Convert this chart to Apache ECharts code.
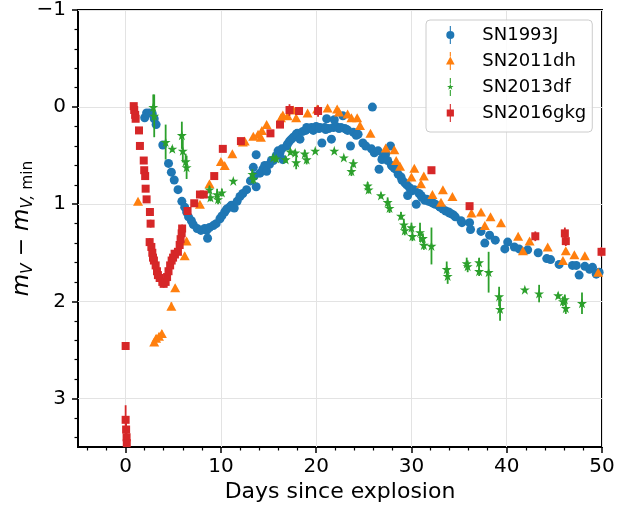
<!DOCTYPE html>
<html>
<head>
<meta charset="utf-8">
<script src="https://cdn.jsdelivr.net/npm/echarts@6/dist/echarts.min.js"></script>
<style>
  html, body { margin: 0; padding: 0; background: #fff; }
  #chart { width: 618px; height: 507px; }
</style>
</head>
<body>
<div id="chart"></div>
<script>
// Light curves: [days since explosion, m_V - m_V,min, error]
const sn1993j = [
  [2.0,0.11,0.01],[2.2,0.06,0.01],[2.5,0.06,0.01],[2.8,0.07,0.01],[3.0,0.12,0.01],[3.2,0.18,0.01],
  [3.9,0.39,0.01],[4.5,0.58,0.01],[4.8,0.67,0.01],[5.1,0.75,0.01],[5.5,0.85,0.01],[5.9,0.97,0.01],
  [6.2,1.03,0.01],[6.4,1.08,0.01],[6.6,1.13,0.01],[6.9,1.17,0.01],[7.1,1.21,0.01],[7.5,1.25,0.01],
  [7.9,1.27,0.01],[8.3,1.25,0.01],[8.5,1.27,0.01],[8.6,1.35,0.01],[8.8,1.24,0.01],[9.2,1.22,0.01],
  [9.5,1.20,0.01],[9.9,1.15,0.01],[10.1,1.12,0.01],[10.4,1.08,0.01],[10.6,1.05,0.01],[10.9,1.03,0.01],
  [11.1,1.01,0.01],[11.4,1.04,0.01],[11.7,0.97,0.01],[12.0,0.92,0.01],[12.3,0.89,0.01],[12.7,0.85,0.01],
  [13.1,0.76,0.01],[13.4,0.62,0.01],[13.5,0.71,0.01],[13.7,0.49,0.01],[13.7,0.82,0.01],[14.1,0.68,0.01],
  [14.4,0.64,0.01],[14.6,0.60,0.01],[14.8,0.66,0.01],[15.1,0.59,0.01],[15.3,0.55,0.01],[15.5,0.55,0.01],
  [15.8,0.50,0.01],[16.0,0.45,0.01],[16.2,0.47,0.01],[16.4,0.43,0.01],[16.5,0.54,0.01],[16.9,0.40,0.01],
  [17.0,0.38,0.01],[17.2,0.35,0.01],[17.4,0.33,0.01],[17.6,0.31,0.01],[17.9,0.28,0.01],[18.0,0.27,0.01],
  [18.3,0.33,0.01],[18.6,0.25,0.01],[18.9,0.24,0.01],[19.0,0.21,0.01],[19.3,0.22,0.01],[19.5,0.21,0.01],
  [19.7,0.24,0.01],[20.0,0.20,0.01],[20.3,0.22,0.01],[20.4,0.21,0.01],[20.6,0.37,0.01],[20.9,0.21,0.01],
  [21.0,0.23,0.01],[21.1,0.12,0.01],[21.3,0.22,0.01],[21.6,0.33,0.01],[21.8,0.21,0.01],[21.9,0.13,0.01],
  [22.1,0.20,0.01],[22.4,0.22,0.01],[22.6,0.21,0.01],[22.8,0.09,0.01],[23.0,0.22,0.01],[23.2,0.23,0.01],
  [23.3,0.24,0.01],[23.6,0.40,0.01],[23.9,0.26,0.01],[24.2,0.29,0.01],[24.4,0.28,0.01],[24.9,0.37,0.01],
  [25.2,0.40,0.01],[25.8,0.43,0.01],[25.9,0.00,0.01],[26.1,0.47,0.01],[26.5,0.45,0.01],[26.6,0.64,0.01],
  [26.9,0.54,0.01],[27.0,0.52,0.01],[27.3,0.48,0.01],[27.5,0.55,0.01],[27.8,0.40,0.01],[27.9,0.60,0.01],
  [28.0,0.61,0.01],[28.2,0.63,0.01],[28.4,0.64,0.01],[28.6,0.69,0.01],[28.9,0.72,0.01],[29.0,0.75,0.01],
  [29.3,0.78,0.01],[29.5,0.80,0.01],[29.6,0.91,0.01],[29.8,0.83,0.01],[30.1,0.86,0.01],[30.3,0.85,0.01],
  [30.5,1.00,0.01],[30.8,0.89,0.01],[31.0,0.91,0.01],[31.1,0.93,0.01],[31.4,0.96,0.01],[31.6,0.95,0.01],
  [31.8,0.97,0.01],[32.1,0.98,0.01],[32.3,0.99,0.01],[32.5,1.00,0.01],[32.9,1.02,0.01],[33.0,1.03,0.01],
  [33.3,1.05,0.01],[33.6,1.07,0.01],[33.9,1.08,0.01],[34.0,1.09,0.01],[34.2,1.10,0.01],[34.4,1.11,0.01],
  [34.6,1.13,0.01],[35.2,1.17,0.01],[35.3,1.19,0.01],[36.1,1.19,0.01],[36.2,1.26,0.01],[37.3,1.28,0.01],
  [37.7,1.40,0.01],[38.2,1.32,0.01],[38.8,1.37,0.01],[39.8,1.46,0.01],[40.1,1.39,0.01],[40.8,1.44,0.01],
  [41.3,1.46,0.01],[42.2,1.47,0.01],[43.3,1.50,0.01],[44.2,1.56,0.01],[44.6,1.57,0.01],[45.5,1.62,0.01],
  [46.9,1.63,0.01],[47.3,1.63,0.01],[47.6,1.73,0.01],[48.2,1.64,0.01],[48.7,1.67,0.01],[49.0,1.65,0.01],
  [49.4,1.72,0.01],[49.7,1.70,0.01]
];

const sn2011dh = [
  [1.3,0.97,0.02],[3.0,2.42,0.03],[3.2,2.38,0.03],[3.5,2.36,0.03],[3.8,2.33,0.03],[4.8,2.05,0.04],
  [5.2,1.86,0.03],[6.2,1.53,0.03],[6.4,1.38,0.03],[7.8,1.00,0.02],[8.8,0.79,0.02],[10.0,0.56,0.02],
  [10.4,0.60,0.02],[11.2,0.48,0.02],[12.3,0.36,0.02],[12.5,0.35,0.02],[13.4,0.30,0.02],[13.9,0.28,0.02],
  [14.2,0.31,0.02],[14.3,0.24,0.02],[14.8,0.18,0.02],[16.3,0.11,0.02],[16.5,0.08,0.02],[17.0,0.09,0.02],
  [17.6,0.03,0.02],[17.9,0.11,0.02],[19.1,0.06,0.02],[20.1,0.02,0.02],[21.2,0.01,0.02],[22.2,0.02,0.02],
  [22.4,0.05,0.02],[23.3,0.07,0.02],[23.7,0.11,0.02],[24.3,0.11,0.02],[24.6,0.19,0.02],[25.7,0.27,0.02],
  [27.3,0.42,0.02],[28.2,0.44,0.02],[28.4,0.55,0.02],[28.8,0.61,0.02],[30.0,0.72,0.02],[30.3,0.63,0.02],
  [31.0,0.79,0.02],[31.3,0.71,0.02],[32.2,0.90,0.02],[33.1,0.98,0.02],[33.3,0.85,0.02],[34.3,0.92,0.02],
  [36.3,1.09,0.02],[37.3,1.08,0.02],[37.7,1.22,0.02],[38.3,1.13,0.02],[39.4,1.19,0.02],[41.2,1.33,0.02],
  [41.7,1.48,0.02],[42.4,1.38,0.02],[44.3,1.44,0.02],[45.9,1.58,0.02],[46.2,1.48,0.02],[47.1,1.52,0.02],
  [48.2,1.53,0.02],[49.6,1.70,0.02]
];

const sn2013df = [
  [2.9,0.00,0.13],[3.0,0.09,0.22],[4.2,0.36,0.18],[4.9,0.43,0.03],[5.9,0.29,0.14],[6.0,0.45,0.12],
  [6.3,0.56,0.08],[6.4,0.62,0.12],[8.8,0.85,0.04],[8.9,0.93,0.04],[9.6,0.90,0.06],[9.7,0.95,0.05],
  [10.1,0.88,0.04],[11.3,0.76,0.02],[13.3,0.69,0.05],[13.4,0.74,0.05],[15.5,0.52,0.03],[15.8,0.53,0.03],
  [16.8,0.54,0.03],[17.3,0.46,0.03],[17.8,0.47,0.03],[17.9,0.57,0.07],[18.8,0.48,0.04],[19.0,0.54,0.05],
  [19.9,0.45,0.02],[21.9,0.45,0.02],[22.9,0.52,0.02],[23.7,0.66,0.05],[23.9,0.58,0.04],[25.4,0.81,0.04],
  [25.5,0.85,0.04],[26.8,0.91,0.03],[27.5,0.98,0.05],[27.7,1.04,0.05],[28.9,1.12,0.04],[29.2,1.21,0.06],
  [29.3,1.27,0.05],[30.0,1.24,0.05],[30.1,1.33,0.05],[30.9,1.29,0.10],[31.2,1.35,0.05],[31.3,1.42,0.05],
  [32.1,1.43,0.19],[33.7,1.67,0.08],[33.8,1.74,0.08],[35.8,1.61,0.06],[35.9,1.64,0.06],[37.1,1.60,0.05],
  [37.1,1.69,0.05],[38.1,1.70,0.21],[39.2,1.95,0.10],[39.3,2.08,0.12],[41.9,1.88,0.02],[43.4,1.92,0.09],
  [45.4,1.94,0.03],[45.9,2.00,0.05],[46.1,1.98,0.05],[46.2,2.07,0.06],[47.9,2.02,0.11]
];

const sn2016gkg = [
  [0.0,2.46,0.02],[0.0,3.22,0.15],[0.05,3.32,0.10],[0.1,3.40,0.08],[0.12,3.46,0.06],
  [0.85,-0.01,0.03],[0.9,0.03,0.03],[1.0,0.08,0.03],[1.05,0.12,0.03],[1.4,0.24,0.03],[1.5,0.40,0.03],
  [1.9,0.55,0.03],[1.95,0.65,0.03],[2.05,0.71,0.03],[2.1,0.84,0.03],[2.2,0.95,0.03],[2.55,1.08,0.04],
  [2.62,1.20,0.04],[2.52,1.39,0.04],[2.70,1.44,0.04],[2.80,1.50,0.04],[2.87,1.55,0.04],[2.97,1.58,0.04],
  [3.15,1.63,0.04],[3.29,1.69,0.04],[3.39,1.73,0.04],[3.57,1.76,0.04],[3.85,1.80,0.04],[3.99,1.82,0.04],
  [4.20,1.80,0.04],[4.35,1.75,0.04],[4.50,1.69,0.04],[4.67,1.63,0.04],[4.83,1.58,0.04],[4.98,1.55,0.04],
  [5.14,1.51,0.04],[5.49,1.49,0.07],[5.67,1.42,0.04],[5.77,1.36,0.04],[5.88,1.30,0.04],[5.93,1.25,0.04],
  [6.5,1.07,0.03],[7.2,0.99,0.03],[7.8,0.90,0.03],[8.2,0.90,0.03],[9.3,0.71,0.03],[10.2,0.43,0.03],
  [12.1,0.35,0.03],[15.2,0.27,0.03],[16.2,0.18,0.03],[17.2,0.03,0.06],[18.2,0.04,0.03],[20.2,0.04,0.06],
  [32.1,0.65,0.02],[36.1,1.02,0.02],[43.0,1.33,0.05],[46.1,1.30,0.06],[46.2,1.38,0.05],[49.95,1.49,0.05]
];

const xTickValues = [0, 10, 20, 30, 40, 50];
const yTickValues = [-1, 0, 1, 2, 3];

const FONT = 'DejaVu Sans';
const COLORS = { sn1993j: '#1f77b4', sn2011dh: '#ff7f0e', sn2013df: '#2ca02c', sn2016gkg: '#d62728' };

const STAR = 'path://M0,-1 L0.2245,-0.309 L0.951,-0.309 L0.363,0.118 L0.588,0.809 L0,0.382 L-0.588,0.809 L-0.363,0.118 L-0.951,-0.309 L-0.2245,-0.309 Z';

// Legend handles: marker with a vertical error bar through it
const LEG_CIRCLE = 'path://M4.4,0 L5.6,0 L5.6,5.5 L4.4,5.5 Z M4.4,14.5 L5.6,14.5 L5.6,20 L4.4,20 Z M0.5,10 A4.5,4.5 0 1,1 9.5,10 A4.5,4.5 0 1,1 0.5,10 Z';
const LEG_TRI = 'path://M4.4,0 L5.6,0 L5.6,5 L4.4,5 Z M4.4,14 L5.6,14 L5.6,20 L4.4,20 Z M5,5 L9.8,14 L0.2,14 Z';
const LEG_STAR = 'path://M4.4,0 L5.6,0 L5.6,6.2 L4.4,6.2 Z M4.4,13.2 L5.6,13.2 L5.6,20 L4.4,20 Z ' +
  'M5,6.2 L5.85,8.83 L8.61,8.83 L6.38,10.45 L7.23,13.07 L5,11.45 L2.77,13.07 L3.62,10.45 L1.39,8.83 L4.15,8.83 Z';
const LEG_SQUARE = 'path://M4.4,0 L5.6,0 L5.6,6 L4.4,6 Z M4.4,14 L5.6,14 L5.6,20 L4.4,20 Z M1,6 L9,6 L9,14 L1,14 Z';

function minusFmt(v) {
  return v < 0 ? '\u2212' + Math.abs(v) : String(v);
}

function errorBars(name, data, color, z) {
  return {
    type: 'custom',
    name: name + ' error',
    data: data,
    z: z,
    clip: true,
    silent: true,
    encode: { x: 0, y: 1 },
    renderItem: function (params, api) {
      const x = api.value(0), y = api.value(1), e = api.value(2);
      const p1 = api.coord([x, y - e]);
      const p2 = api.coord([x, y + e]);
      return {
        type: 'line',
        shape: { x1: p1[0], y1: p1[1], x2: p2[0], y2: p2[1] },
        style: { stroke: color, lineWidth: 1.8 }
      };
    }
  };
}

function markers(name, data, color, symbol, size, z) {
  return {
    type: 'scatter',
    name: name,
    data: data.map(function (d) { return [d[0], d[1]]; }),
    symbol: symbol,
    symbolSize: size,
    itemStyle: { color: color, opacity: 1 },
    z: z,
    clip: true,
    silent: true
  };
}

const chart = echarts.init(document.getElementById('chart'), null, { renderer: 'canvas' });

chart.setOption({
  animation: false,
  backgroundColor: '#ffffff',
  textStyle: { fontFamily: FONT },
  grid: {
    left: 78, right: 16, top: 10, bottom: 60,
    show: true, borderColor: '#000', borderWidth: 2, backgroundColor: 'transparent',
    containLabel: false, outerBoundsMode: 'none'
  },
  xAxis: {
    type: 'value',
    min: -5, max: 50,
    splitNumber: 5,
    name: 'Days since explosion',
    nameLocation: 'middle',
    nameGap: 34,
    nameMoveOverlap: false,
    nameTextStyle: { fontFamily: FONT, fontSize: 22, color: '#000' },
    axisLine: { show: false, onZero: false },
    axisTick: { show: true, inside: false, length: 6, lineStyle: { color: '#000', width: 1.5 }, customValues: xTickValues },
    minorTick: { show: true, splitNumber: 5, length: 3.5, lineStyle: { color: '#000', width: 1.2 } },
    axisLabel: { fontFamily: FONT, fontSize: 20, color: '#000', margin: 10, customValues: xTickValues, formatter: minusFmt },
    splitLine: { show: true, lineStyle: { color: '#e3e3e3', width: 1 } }
  },
  yAxis: {
    type: 'value',
    inverse: true,
    min: -1, max: 3.5,
    interval: 1,
    name: '{i|m}{s|V}{n| \u2212 }{i|m}{s|V,}{r| min}',
    nameLocation: 'middle',
    nameRotate: 90,
    nameGap: 42,
    nameMoveOverlap: false,
    nameTextStyle: {
      fontFamily: FONT, fontSize: 22, color: '#000',
      rich: {
        i: { fontFamily: FONT, fontStyle: 'italic', fontSize: 23, color: '#000' },
        s: { fontFamily: FONT, fontStyle: 'italic', fontSize: 15.5, color: '#000', padding: [11, 0, 0, 0] },
        r: { fontFamily: FONT, fontSize: 15.5, color: '#000', padding: [11, 0, 0, 0] },
        n: { fontFamily: FONT, fontSize: 22, color: '#000' }
      }
    },
    axisLine: { show: false, onZero: false },
    axisTick: { show: true, inside: false, length: 6, lineStyle: { color: '#000', width: 1.5 }, customValues: yTickValues },
    minorTick: { show: true, splitNumber: 5, length: 3.5, lineStyle: { color: '#000', width: 1.2 } },
    axisLabel: { fontFamily: FONT, fontSize: 20, color: '#000', margin: 12, customValues: yTickValues, formatter: minusFmt },
    splitLine: { show: true, lineStyle: { color: '#e3e3e3', width: 1 } }
  },
  legend: {
    orient: 'vertical',
    left: 426, top: 20,
    padding: [6, 6, 10, 20],
    itemWidth: 40, itemHeight: 18, itemGap: 8,
    symbolKeepAspect: true,
    backgroundColor: 'rgba(255,255,255,0.85)',
    borderColor: '#cccccc', borderWidth: 1, borderRadius: 4,
    textStyle: { fontFamily: FONT, fontSize: 18, color: '#000', padding: [0, 0, 0, 7] },
    selectedMode: false,
    data: [
      { name: 'SN1993J', icon: LEG_CIRCLE },
      { name: 'SN2011dh', icon: LEG_TRI },
      { name: 'SN2013df', icon: LEG_STAR },
      { name: 'SN2016gkg', icon: LEG_SQUARE }
    ]
  },
  series: [
    errorBars('SN1993J', sn1993j, COLORS.sn1993j, 2),
    markers('SN1993J', sn1993j, COLORS.sn1993j, 'circle', 9, 3),
    errorBars('SN2011dh', sn2011dh, COLORS.sn2011dh, 4),
    markers('SN2011dh', sn2011dh, COLORS.sn2011dh, 'triangle', [10, 9], 5),
    errorBars('SN2013df', sn2013df, COLORS.sn2013df, 6),
    markers('SN2013df', sn2013df, COLORS.sn2013df, STAR, 10, 7),
    errorBars('SN2016gkg', sn2016gkg, COLORS.sn2016gkg, 8),
    markers('SN2016gkg', sn2016gkg, COLORS.sn2016gkg, 'rect', 8, 9)
  ]
});
</script>
</body>
</html>
